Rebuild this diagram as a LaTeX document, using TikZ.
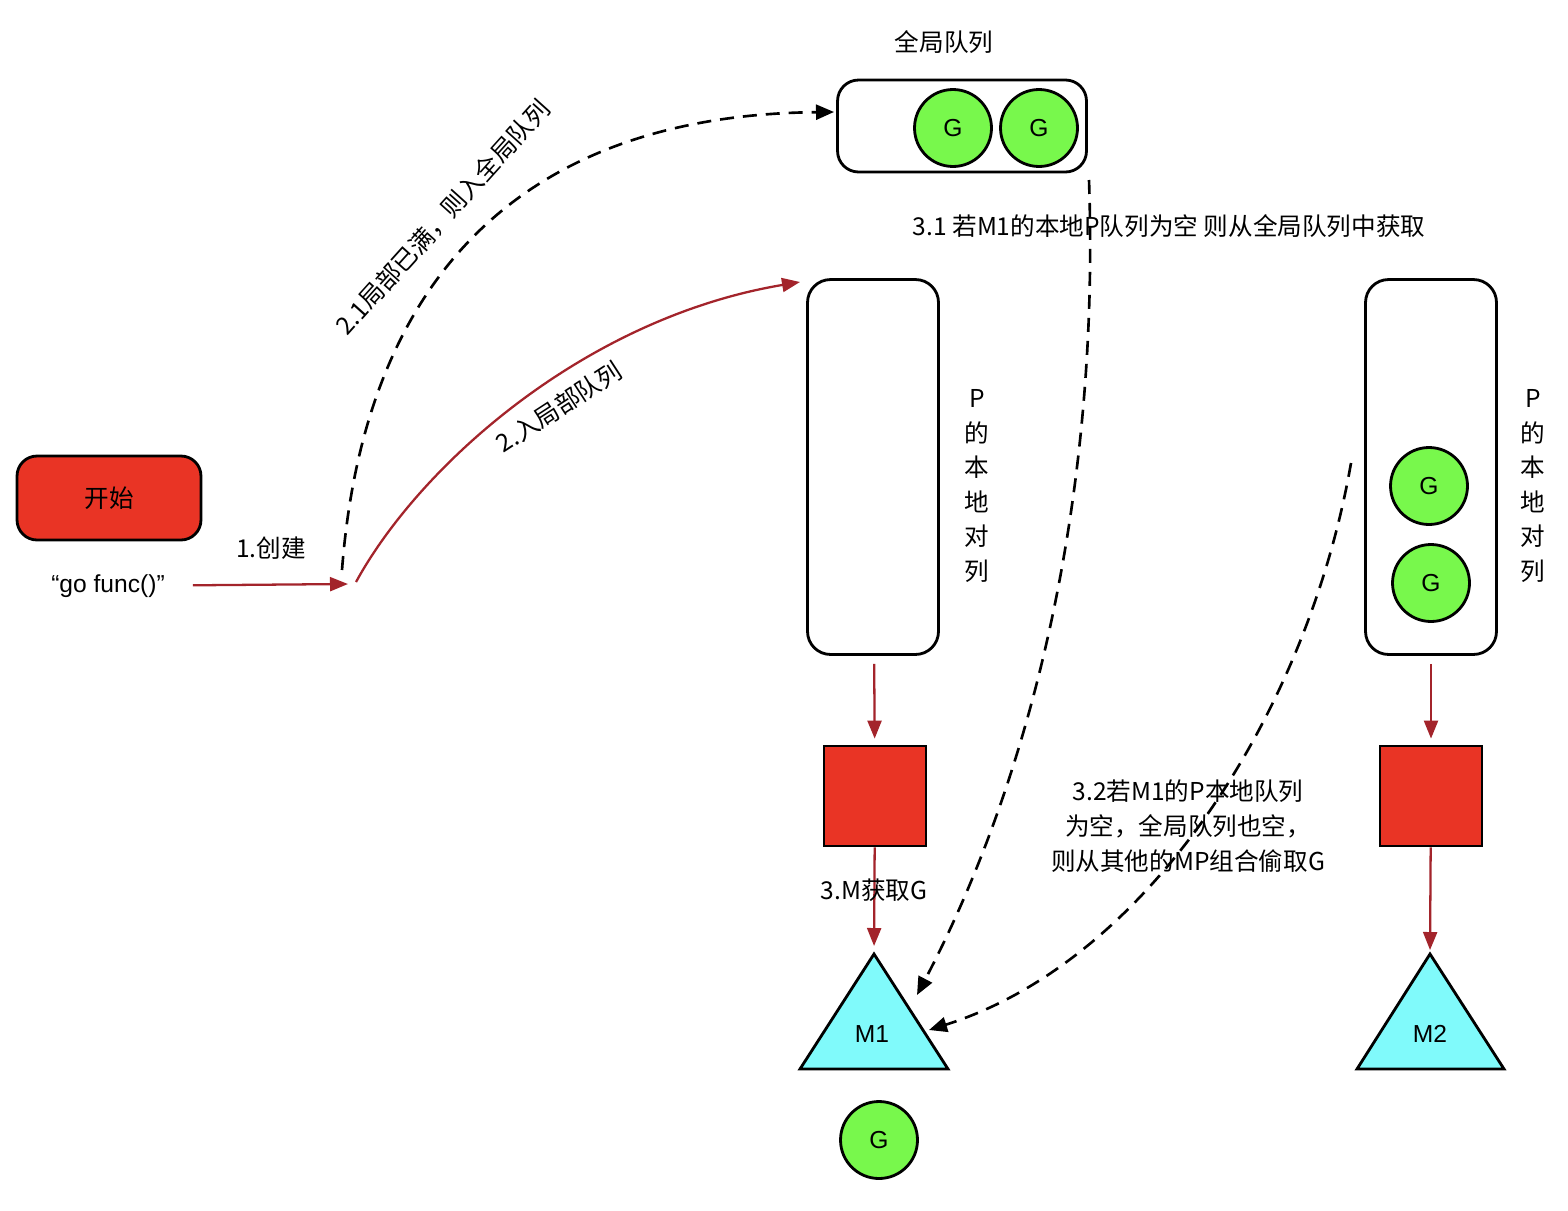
\documentclass[tikz,border=0pt]{standalone}
\usepackage{fontspec}
\setmainfont{Noto Sans CJK SC}
\newfontfamily\latinfont{Liberation Sans}
\usepackage{xcolor}
\usepackage{tikz}
\usetikzlibrary{shapes, arrows.meta, positioning, calc, shapes.geometric}

\definecolor{startred}{HTML}{E93425}
\definecolor{linkred}{HTML}{A3242B}
\definecolor{ggreen}{HTML}{78F84C}
\definecolor{mcyan}{HTML}{80FAFB}

\begin{document}
\begin{tikzpicture}[
    x=0.02cm, y=-0.02cm,
    every node/.style={font=\fontsize{14}{17}\selectfont},
    gnode/.style={draw, circle, line width=1.6pt, fill=ggreen, minimum size=1.54cm, inner sep=0pt, font=\latinfont\fontsize{14}{17}\selectfont},
    pqueue/.style={draw, rectangle, rounded corners=0.46cm, line width=1.6pt, minimum width=2.62cm, minimum height=7.5cm},
    mbox/.style={draw, rectangle, line width=1.6pt, fill=startred, minimum width=2.04cm, minimum height=2cm},
    mtri/.style={draw, line width=1.6pt, fill=mcyan},
    redlink/.style={-{Triangle[length=0.36cm, width=0.28cm]}, line width=1.3pt, linkred},
    dashlink/.style={-{Triangle[length=0.36cm, width=0.3cm]}, line width=1.5pt, dash pattern=on 0.28cm off 0.18cm, black},
    vlabel/.style={align=center, font=\fontsize{14}{19.6}\selectfont}
]
\useasboundingbox (0,0) rectangle (1568,1210);

% Start
\node[draw, line width=1.6pt, fill=startred, rounded corners=0.4cm, minimum width=3.68cm, minimum height=1.68cm] (start) at (109,498) {开始};
\node[font=\latinfont\fontsize{14}{17}\selectfont] (gofunc) at (108,586) {“go func()”};
\node (createlbl) at (271,548) {1.创建};

% Global queue
\node (gqtitle) at (944,42) {全局队列};
\node[draw, rectangle, rounded corners=0.42cm, line width=1.6pt, minimum width=4.98cm, minimum height=1.84cm] (gq) at (962,126) {};
\node[gnode] (gq1) at (953,128) {G};
\node[gnode] (gq2) at (1039,128) {G};

% Local P queues
\node[pqueue] (p1) at (873,467) {};
\node[pqueue] (p2) at (1431,467) {};
\node[gnode] (p2g1) at (1429,486) {G};
\node[gnode] (p2g2) at (1431,583) {G};
\node[vlabel] (plabel1) at (977,486) {P\\的\\本\\地\\对\\列};
\node[vlabel] (plabel2) at (1533,486) {P\\的\\本\\地\\对\\列};

% M boxes and threads
\node[mbox] (mproc1) at (875,796) {};
\node[mbox] (mproc2) at (1431,796) {};
\draw[mtri] (874,954) coordinate (m1top) -- (948,1069) -- (800,1069) -- cycle;
\draw[mtri] (1430,954) coordinate (m2top) -- (1504,1069) -- (1357,1069) -- cycle;
\node[font=\latinfont\fontsize{14}{17}\selectfont] (m1) at (872,1034) {M1};
\node[font=\latinfont\fontsize{14}{17}\selectfont] (m2) at (1430,1034) {M2};
\node[gnode] (gtaken) at (879,1140) {G};

% Curve ends
\coordinate (spawn) at (348,584);
\coordinate (spawnup) at (356,582);
\coordinate (spawnfull) at (342,570);
\coordinate (p1in) at (800,282);
\coordinate (gqin) at (834,112);
\coordinate (gqout) at (1089,180);
\coordinate (m1side) at (917,995);
\coordinate (p2out) at (1351,463);
\coordinate (m1steal) at (929,1030);

% Arrows
\draw[redlink, shorten <=0.44cm] (gofunc) -- (spawn);
\draw[redlink] (spawnup) .. controls (420,465) and (585,318) .. (p1in);
\draw[dashlink] (spawnfull) .. controls (365,270) and (530,115) .. (gqin);
\draw[redlink, shorten <=0.16cm, shorten >=0.12cm] (p1) -- (mproc1);
\draw[redlink, shorten <=0.16cm, shorten >=0.12cm] (p2) -- (mproc2);
\draw[redlink, shorten >=0.16cm] (mproc1) -- (m1top);
\draw[redlink, shorten >=0.08cm] (mproc2) -- (m2top);
\draw[dashlink] (gqout) .. controls (1100,500) and (1030,780) .. (m1side);
\draw[dashlink] (p2out) .. controls (1308,710) and (1150,960) .. (m1steal);

% Labels
\node[rotate=48] (fulllbl) at (443,217) {2.1局部已满，则入全局队列};
\node[rotate=33] (locallbl) at (559,407) {2.入局部队列};
\node (globallbl) at (1169,226) {3.1 若M1的本地P队列为空 则从全局队列中获取};
\node (fetchlbl) at (874,890) {3.M获取G};
\node[align=center, font=\fontsize{14}{20}\selectfont] (steallbl) at (1188,826) {3.2若M1的P本地队列\\为空，全局队列也空，\\则从其他的MP组合偷取G};

\end{tikzpicture}
\end{document}
